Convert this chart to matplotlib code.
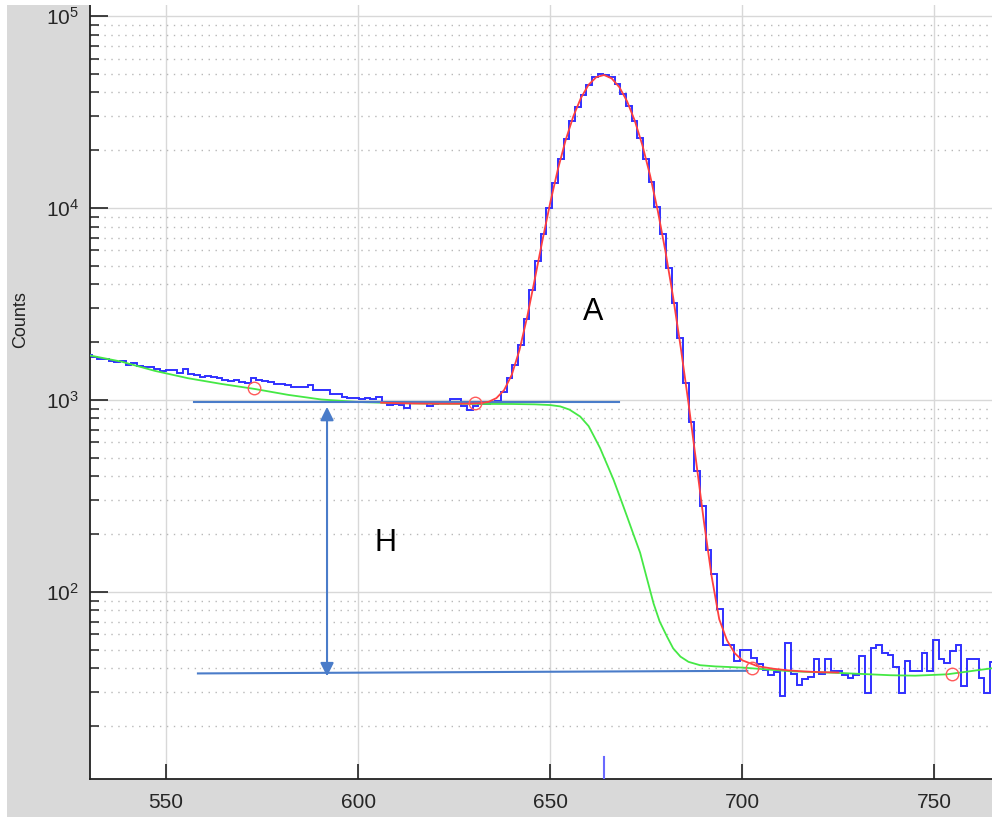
import matplotlib
matplotlib.use("Agg")
import matplotlib.pyplot as plt
import numpy as np
from matplotlib.patches import Rectangle
from matplotlib.ticker import LogLocator, NullFormatter, FixedLocator

plt.rcParams['font.family'] = ['Liberation Sans', 'DejaVu Sans']
plt.rcParams['mathtext.fontset'] = 'custom'
plt.rcParams['mathtext.rm'] = 'Liberation Sans'
plt.rcParams['mathtext.it'] = 'Liberation Sans:italic'

# histogram: first bin edge and bin width (energy units), counts per bin
bin_start = 529.14
bin_width = 1.48
counts = [
    1710, 1680, 1640, 1625, 1595, 1580, 1600, 1520, 1560, 1500,
    1490, 1485, 1440, 1415, 1430, 1432, 1380, 1450, 1365, 1350,
    1320, 1335, 1310, 1300, 1270, 1248, 1270, 1235, 1225, 1300,
    1270, 1256, 1240, 1210, 1210, 1197, 1169, 1169, 1162, 1190,
    1127, 1120, 1127, 1074, 1074, 1040, 1028, 1025, 1010, 1028,
    1010, 1035, 972, 942, 953, 937, 912, 964, 980, 972,
    931, 955, 967, 972, 1012, 1012, 931, 887, 925, 953,
    955, 975, 990, 1095, 1298, 1525, 1937, 2632, 3750, 5270,
    7300, 10030, 13550, 17950, 22800, 28400, 33700, 38800, 43750, 47950,
    49700, 49400, 47900, 44000, 39000, 34000, 28500, 23000, 18000, 13600,
    10100, 7300, 4890, 3210, 2113, 1222, 763, 427, 281, 166,
    124, 81, 53, 53, 43.5, 50, 50, 45, 42, 39,
    36.8, 38.2, 28.8, 54, 37.4, 32.8, 35.1, 35.9, 44.6, 37.4,
    44.6, 38.5, 38.5, 37, 35.5, 37, 46.5, 29.8, 50.8, 53,
    48, 47, 40.8, 29.9, 43.9, 38.5, 38.5, 48, 38.5, 56.2,
    44.6, 42.6, 49, 53, 32.2, 44.6, 44.6, 35.5, 29.9, 42.9,
]

# fitted peak + background (red)
fit_x = [606, 610, 614, 618, 622, 626, 630, 632, 634, 636, 638, 640, 642, 644,
         646, 648, 650, 652, 654, 656, 658, 660, 662, 664, 666, 668, 670, 672,
         674, 676, 678, 680, 682, 684, 686, 688, 690, 692, 694, 696, 698, 700,
         704, 708, 712, 716, 720, 725]
fit_y = [967, 962, 958, 956, 955, 955, 957, 962, 978, 1022, 1125, 1353, 1819, 2705,
         4269, 6813, 10636, 15896, 22490, 29940, 37420, 43830, 48010, 49230, 47260,
         42540, 35950, 28500, 21190, 14760, 9655, 5928, 3421, 1858, 959, 475, 233,
         121, 72, 56, 48, 44, 41, 39.8, 39, 38.5, 38.2, 38]

# step background (green)
bg_x = [529.5, 538.4, 547.1, 555.7, 564.4, 573.1, 581.8, 590.4, 600, 610, 620, 630,
        640, 646, 650, 652.6, 655, 657.8, 660, 661.5, 663, 664, 665, 666.5, 668,
        670, 672, 673.4, 675, 676.9, 678.5, 680.4, 682, 683.9, 686, 689, 693,
        700.3, 712.5, 725.5, 738.5, 745, 753.3, 765]
bg_y = [1714, 1582, 1416, 1297, 1211, 1140, 1062, 1005, 975, 962, 955, 953,
        952, 948, 940, 925, 890, 819, 730, 640, 560, 502, 451, 383, 318,
        247, 191, 160, 121, 87, 70, 58.5, 50.8, 46, 43.2, 41.5, 40.9,
        40.3, 38.6, 37.8, 36.8, 36.6, 37.2, 40.0]

# background fit points (red circles)
pts_x = [572.9, 630.5, 702.6, 754.7]
pts_y = [1150, 964, 40.2, 37.4]

# annotation: baselines and height arrow
upper_x = [557.4, 667.8]
upper_y = [980, 980]
lower_x = [558.3, 701.3]
lower_y = [37.6, 38.8]
arrow_x = 591.9
arrow_top = 920
arrow_bot = 36.3
peak_pos = 664.1

xlim = (530.2, 765.0)
ylim = (10.6, 1.14e5)

fig = plt.figure(figsize=(9.92, 8.17), dpi=100)
fig.patch.set_facecolor('#d9d9d9')
fig.patches.append(Rectangle((0, 0), 7 / 992, 1, transform=fig.transFigure,
                             facecolor='white', edgecolor='none', zorder=0))
fig.patches.append(Rectangle((0, 1 - 5 / 817), 1, 5 / 817, transform=fig.transFigure,
                             facecolor='white', edgecolor='none', zorder=0))

ax = fig.add_axes([90 / 992, 38 / 817, 902 / 992, 774 / 817])
ax.set_facecolor('white')
ax.set_yscale('log')
ax.set_xlim(*xlim)
ax.set_ylim(*ylim)

edges = bin_start + bin_width * np.arange(len(counts) + 1)
ax.stairs(counts, edges, color='#3030ff', lw=1.4, baseline=None, zorder=3)
ax.plot(bg_x, bg_y, color='#45e845', lw=1.3, zorder=4)
ax.plot(fit_x, fit_y, color='#ff4040', lw=1.3, zorder=5)
ax.plot(pts_x, pts_y, 'o', mfc='none', mec='#ff5a5a', ms=9, mew=1.0, zorder=6)

line_col = '#4a7cc9'
ax.plot(upper_x, upper_y, color=line_col, lw=1.5, zorder=4)
ax.plot(lower_x, lower_y, color=line_col, lw=1.5, zorder=4)
ax.annotate('', xy=(arrow_x, arrow_bot), xytext=(arrow_x, arrow_top),
            arrowprops=dict(arrowstyle='<|-|>', color=line_col, lw=1.5,
                            mutation_scale=20, shrinkA=0, shrinkB=0), zorder=4)
ax.plot([peak_pos, peak_pos], [ylim[0], 13.8], color='#6a6aff', lw=1.5, zorder=4)

ax.text(661.2, 2870, 'A', fontsize=22, ha='center', va='center', color='black')
ax.text(607.0, 180, 'H', fontsize=22, ha='center', va='center', color='black')

# ticks and grid
ax.xaxis.set_major_locator(FixedLocator([550, 600, 650, 700, 750]))
ax.yaxis.set_major_locator(LogLocator(base=10, numticks=10))
ax.yaxis.set_minor_locator(LogLocator(base=10, subs=np.arange(2, 10), numticks=20))
ax.yaxis.set_minor_formatter(NullFormatter())
ax.tick_params(axis='both', which='major', direction='in', colors='#222222',
               labelsize=15, labelcolor='#262626')
ax.tick_params(axis='y', which='major', length=13, width=1.2, pad=8)
ax.tick_params(axis='y', which='minor', direction='in', length=6.5, width=1.2,
               color='#333333')
ax.tick_params(axis='x', which='major', length=11, width=1.2, pad=10)
ax.tick_params(axis='x', which='minor', bottom=False)

ax.grid(True, which='major', axis='both', color='#d8d8d8', lw=1.0, zorder=0)
ax.grid(True, which='minor', axis='y', color='#b8b8b8', lw=1.0,
        linestyle=(0, (1, 4)), zorder=0)
ax.set_axisbelow(True)

for side in ['top', 'right']:
    ax.spines[side].set_visible(False)
ax.spines['left'].set_color('#222222')
ax.spines['bottom'].set_color('#222222')
ax.spines['left'].set_linewidth(1.3)
ax.spines['bottom'].set_linewidth(1.3)

ax.set_ylabel('Counts', fontsize=13, color='#222222')
ax.yaxis.set_label_coords(-0.068, 0.593)

fig.savefig('out.png', dpi=100, facecolor=fig.get_facecolor())
